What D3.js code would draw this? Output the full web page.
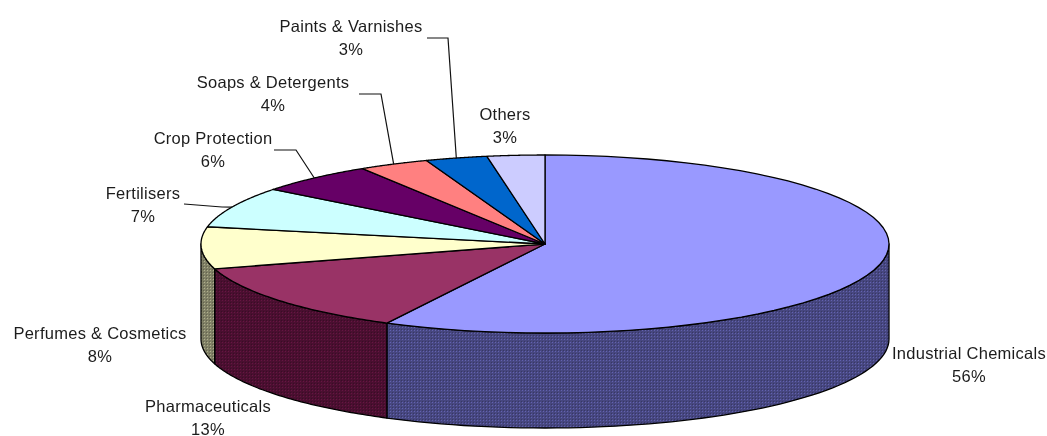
<!DOCTYPE html>
<html>
<head>
<meta charset="utf-8">
<script src="https://cdn.jsdelivr.net/npm/d3@7"></script>
<style>
    html, body { margin: 0; padding: 0; background: #fff; }
    svg { display: block; filter: blur(0.35px); }
    text { font-family: "Liberation Sans", Arial, sans-serif; font-size: 16.5px; letter-spacing: 0.27px; fill: #1c1c1c; }
    .leader { fill: none; stroke: #111; stroke-width: 1.2; }
    .top, .wall { stroke: #000; stroke-width: 1.3; stroke-linejoin: round; }
</style>
</head>
<body>
<svg id="chart" width="1047" height="436"></svg>
<script>
// Chart values, clockwise from twelve o'clock
const categories = ["Industrial Chemicals", "Pharmaceuticals", "Perfumes & Cosmetics", "Fertilisers",
    "Crop Protection", "Soaps & Detergents", "Paints & Varnishes", "Others"];
const percentLabels = [56, 13, 8, 7, 6, 4, 3, 3];
// slice widths as drawn, the 3D view stretches them a little away from the printed percent
const sliceShares = [57.6, 12.9, 7.6, 7.4, 5.6, 3.3, 2.9, 2.7];
const topColors = ["#9999ff", "#993366", "#ffffcc", "#ccffff", "#660066", "#ff8080", "#0066cc", "#ccccff"];
const wallColors = ["#474780", "#4a0f30", "#808066", "#668080", "#330033", "#804040", "#003366", "#666680"];

// Pie geometry
const cx = 545, cy = 244, rx = 344, ry = 89, depth = 95;

// Label layout: centre x, first line baseline
const labelX = [969, 208, 100, 143, 213, 273, 351, 505];
const labelY = [359, 412, 339, 199, 144, 88, 32, 120];
// Leader elbows for the labels that have one: start and bend points
const leaders = [
    { i: 3, pts: [[184, 204], [222, 207]] },
    { i: 4, pts: [[274, 150], [296, 150]] },
    { i: 5, pts: [[359, 94], [381, 94]] },
    { i: 6, pts: [[427, 38], [448, 38]] }
];

const svg = d3.select("#chart");

// Scales from pie angle to screen position on the top ellipse
const xScale = d3.scaleLinear().domain([-1, 1]).range([cx - rx, cx + rx]);
const yScale = d3.scaleLinear().domain([-1, 1]).range([cy + ry, cy - ry]);
const ex = a => xScale(Math.sin(a));
const ey = a => yScale(Math.cos(a));

const arcs = d3.pie().sort(null).value(d => d)(sliceShares);

// Dithered wall fill
const defs = svg.append("defs");
wallColors.forEach((c, i) => {
    const p = defs.append("pattern").attr("id", "wall" + i)
        .attr("width", 3).attr("height", 3).attr("patternUnits", "userSpaceOnUse");
    p.append("rect").attr("width", 3).attr("height", 3).attr("fill", c);
    p.append("rect").attr("width", 1).attr("height", 1).attr("fill", d3.color(c).brighter(0.9));
    p.append("rect").attr("x", 2).attr("y", 2).attr("width", 1).attr("height", 1).attr("fill", d3.color(c).darker(0.7));
});

const line = d3.line();

function sampleAngles(a0, a1) {
    return d3.range(0, 61).map(k => a0 + (a1 - a0) * k / 60);
}

// Side walls, only the part of each slice on the near half
arcs.forEach((d, i) => {
    const a0 = Math.max(d.startAngle, Math.PI / 2);
    const a1 = Math.min(d.endAngle, Math.PI * 1.5);
    if (a1 <= a0) return;
    const angles = sampleAngles(a0, a1);
    const upper = angles.map(a => [ex(a), ey(a)]);
    const lower = angles.slice().reverse().map(a => [ex(a), ey(a) + depth]);
    svg.append("path").attr("class", "wall")
        .attr("d", line(upper.concat(lower)) + "Z")
        .attr("fill", "url(#wall" + i + ")");
});

// Top face
arcs.forEach((d, i) => {
    const edge = sampleAngles(d.startAngle, d.endAngle).map(a => [ex(a), ey(a)]);
    svg.append("path").attr("class", "top")
        .attr("d", line([[cx, cy]].concat(edge)) + "Z")
        .attr("fill", topColors[i]);
});

// Leader lines end on the rim at the middle of their slice
leaders.forEach(l => {
    const d = arcs[l.i];
    const mid = (d.startAngle + d.endAngle) / 2;
    svg.append("path").attr("class", "leader")
        .attr("d", line(l.pts.concat([[ex(mid), ey(mid)]])));
});

// Labels
categories.forEach((name, i) => {
    const t = svg.append("text").attr("text-anchor", "middle");
    t.append("tspan").attr("x", labelX[i]).attr("y", labelY[i]).text(name);
    t.append("tspan").attr("x", labelX[i]).attr("y", labelY[i] + 23).text(percentLabels[i] + "%");
});
</script>
</body>
</html>
